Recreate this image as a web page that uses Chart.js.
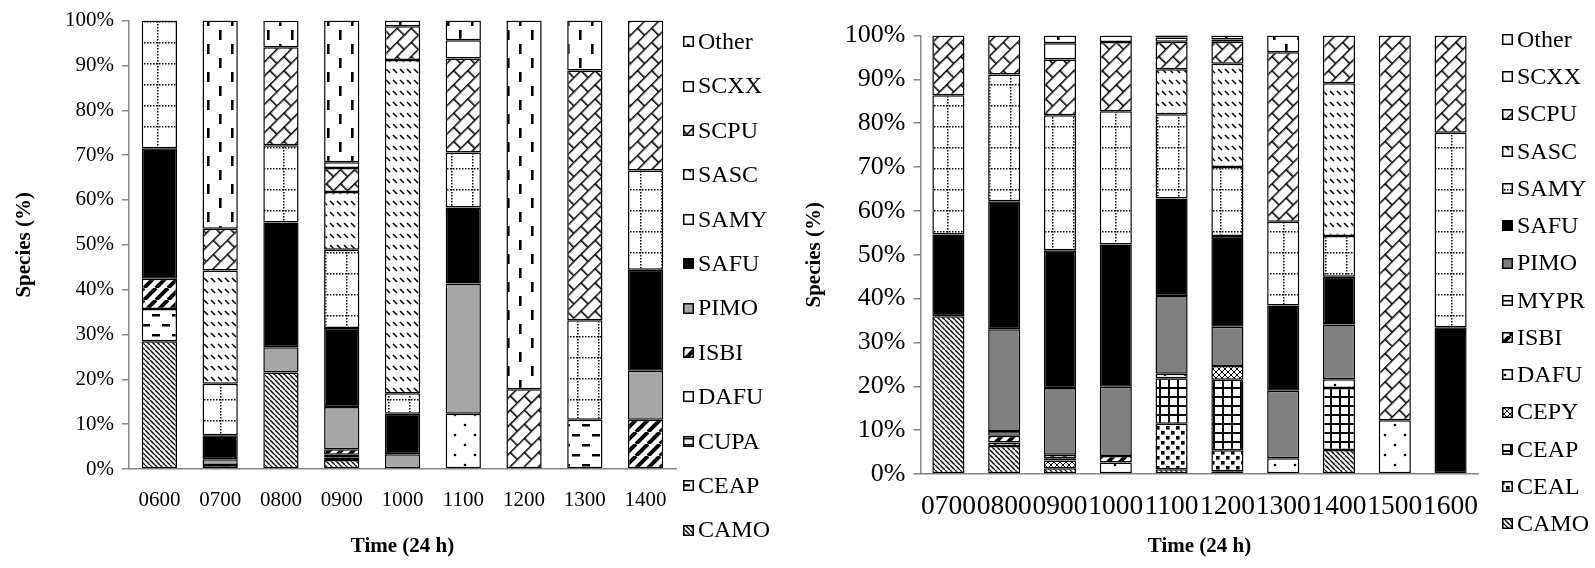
<!DOCTYPE html>
<html>
<head>
<meta charset="utf-8">
<script src="https://cdn.jsdelivr.net/npm/chart.js@4.4.0/dist/chart.umd.min.js"></script>
<style>
  html, body { margin: 0; padding: 0; background: #fff; }
  #wrap { position: relative; width: 1595px; height: 568px; }
  #leftChart { position: absolute; left: 0; top: 0; }
  #rightChart { position: absolute; left: 790px; top: 0; }
</style>
</head>
<body>
<div id="wrap">
  <canvas id="leftChart" width="790" height="568"></canvas>
  <canvas id="rightChart" width="805" height="568"></canvas>
</div>
<script>
// ---- left chart data (percent of species per hour) ----
const leftTimes = ['0600', '0700', '0800', '0900', '1000', '1100', '1200', '1300', '1400'];
const leftCAMO  = [28.5, 0,    21.5,  2.0,  0,    0,     0,    0,     0];
const leftCEAP  = [7.2,  0.9,  0,     0.6,  0,    0,     0,    11.0,  0];
const leftCUPA  = [0,    0,    0,     0.6,  0,    0,     0,    0,     0];
const leftDAFU  = [0,    0,    0,     0,    0,    12.3,  0,    0,     0];
const leftISBI  = [6.75, 0,    0,     1.2,  0,    0,     0,    0,     11.0];
const leftPIMO  = [0,    1.3,  5.65,  9.4,  3.3,  29.05, 0,    0,     10.9];
const leftSAFU  = [29.1, 5.3,  27.8,  17.65, 9.0, 16.95, 0,    0,     22.55];
const leftSAMY  = [28.5, 11.5, 17.25, 17.45, 4.6, 12.3,  0,    22.15, 22.1];
const leftSASC  = [0,    25.25, 0,    12.9, 74.3, 0,     0,    0,     0];
const leftSCPU  = [0,    9.35, 21.85, 5.35, 7.55, 20.95, 17.8, 55.7,  33.5];
const leftSCXX  = [0,    0,    0,     1.25, 0,    4.05,  0,    0,     0];
const leftOther = [0,    46.4, 5.9,   31.65, 1.25, 4.4,  82.2, 11.2,  0];

// ---- right chart data ----
const rightTimes = ['0700', '0800', '0900', '1000', '1100', '1200', '1300', '1400', '1500', '1600'];
const rightCAMO  = [36.0,  6.4,  1.3,   0,     1.1,   0.6,   0,     5.5,   0,     0];
const rightCEAL  = [0,     0,    0,     0,     10.35, 4.8,   0,     0,     0,     0];
const rightCEAP  = [0,     0,    0,     0,     10.4,  16.1,  0,     14.1,  0,     0];
const rightCEPY  = [0,     0,    1.8,   0,     0,     3.15,  0,     0,     0,     0];
const rightDAFU  = [0,     0.8,  0.5,   2.6,   1.0,   0,     3.6,   2.0,   12.25, 0];
const rightISBI  = [0,     1.5,  0.8,   1.5,   0,     0,     0,     0,     0,     0];
const rightMYPR  = [0,     1.1,  0,     0,     0,     0,     0,     0,     0,     0];
const rightPIMO  = [0,     23.2, 15.2,  15.8,  17.75, 8.95,  15.4,  12.5,  0,     0];
const rightSAFU  = [18.6,  29.2, 31.45, 32.45, 22.2,  20.65, 19.4,  10.9,  0,     33.45];
const rightSAMY  = [31.75, 28.9, 30.75, 30.4,  19.25, 15.75, 19.15, 9.25,  0,     44.4];
const rightSASC  = [0,     0,    0,     0,     10.25, 23.55, 0,     34.85, 0,     0];
const rightSCPU  = [13.65, 8.9,  12.75, 15.75, 6.25,  5.05,  38.65, 10.9,  87.75, 22.15];
const rightSCXX  = [0,     0,    3.7,   1.5,   1.0,   0.5,   0,     0,     0,     0];
const rightOther = [0,     0,    1.75,  0,     0.5,   0.9,   3.8,   0,     0,     0];

const yTicks = [0, 10, 20, 30, 40, 50, 60, 70, 80, 90, 100];

Chart.defaults.font.family = '"Liberation Serif", "Times New Roman", serif';
Chart.defaults.color = '#000';

// small tiles used as fill patterns
function tile(w, h, draw) {
    const c = document.createElement('canvas');
    c.width = w; c.height = h;
    const g = c.getContext('2d');
    g.fillStyle = '#fff';
    g.fillRect(0, 0, w, h);
    g.fillStyle = '#000';
    g.strokeStyle = '#000';
    draw(g);
    return c;
}
function pattern(c, angle) {
    const p = document.createElement('canvas').getContext('2d').createPattern(c, 'repeat');
    if (angle) p.setTransform(new DOMMatrix().rotate(angle));
    return p;
}

const pat = {
    camo: pattern(tile(5, 5, g => {
        g.lineWidth = 1.4;
        g.beginPath();
        [-5, 0, 5].forEach(o => { g.moveTo(o, 0); g.lineTo(o + 5, 5); });
        g.stroke();
    })),
    hdash: pattern(tile(20, 20, g => {
        g.fillRect(2, 4, 8, 2.5);
        g.fillRect(12, 14, 8, 2.5);
    })),
    white: '#fff',
    dots: pattern(tile(20, 20, g => {
        g.beginPath(); g.arc(5, 5, 1.3, 0, Math.PI * 2); g.fill();
        g.beginPath(); g.arc(15, 15, 1.3, 0, Math.PI * 2); g.fill();
    })),
    stripes: pattern(tile(12, 12, g => {
        g.lineWidth = 4;
        g.beginPath();
        [-12, 0, 12].forEach(o => { g.moveTo(o, 12); g.lineTo(o + 12, 0); });
        g.stroke();
    })),
    dotgrid: pattern(tile(21, 21, g => {
        for (let x = 0; x < 21; x += 3) g.fillRect(x, 0, 1.5, 1.5);
        for (let y = 0; y < 21; y += 3) g.fillRect(10, y, 1.5, 1.5);
    })),
    shortdiag: pattern(tile(7, 11, g => {
        g.lineWidth = 1.6;
        g.beginPath(); g.moveTo(1, 3); g.lineTo(5, 7); g.stroke();
    })),
    brick: pattern(tile(20, 20, g => {
        g.lineWidth = 1.6;
        g.beginPath();
        g.moveTo(0, 0.8); g.lineTo(20, 0.8);
        g.moveTo(0, 10.8); g.lineTo(20, 10.8);
        g.moveTo(0.8, 0); g.lineTo(0.8, 10.8);
        g.moveTo(10.8, 10.8); g.lineTo(10.8, 20);
        g.stroke();
    }), -45),
    vdash: pattern(tile(24, 28, g => {
        g.fillRect(3, 2, 2.6, 10);
        g.fillRect(15, 16, 2.6, 10);
    })),
    blots: pattern(tile(10, 10, g => {
        g.fillRect(1, 1, 3.6, 3.6);
        g.fillRect(6, 6, 3.6, 3.6);
    })),
    grid: pattern(tile(9, 9, g => {
        g.fillRect(0, 0, 9, 2);
        g.fillRect(0, 0, 2, 9);
    })),
    cross: pattern(tile(6, 6, g => {
        g.lineWidth = 1;
        g.beginPath();
        g.moveTo(0, 0); g.lineTo(6, 6);
        g.moveTo(6, 0); g.lineTo(0, 6);
        g.stroke();
    })),
    hline: pattern(tile(8, 6, g => { g.fillRect(0, 0, 8, 1.5); }))
};

// legend drawn at the right like the original figure
const sideLegend = {
    id: 'sideLegend',
    afterDraw(chart, args, opts) {
        const ctx = chart.ctx;
        const sets = chart.data.datasets;
        ctx.save();
        ctx.font = opts.font;
        ctx.textBaseline = 'middle';
        for (let i = 0; i < sets.length; i++) {
            const ds = sets[sets.length - 1 - i];
            const y = opts.top + i * opts.step;
            const bx = opts.x, by = Math.round(y - opts.box / 2);
            ctx.fillStyle = ds.backgroundColor;
            ctx.fillRect(bx, by, opts.box, opts.box);
            ctx.lineWidth = 1.5;
            ctx.strokeStyle = '#000';
            ctx.strokeRect(bx + 0.75, by + 0.75, opts.box - 1.5, opts.box - 1.5);
            ctx.fillStyle = '#000';
            ctx.fillText(ds.label, bx + opts.box + opts.gap, y + 1);
        }
        ctx.restore();
    }
};

function makeChart(id, labels, series, o) {
    const datasets = series.map(s => ({
        label: s[0],
        data: s[1],
        backgroundColor: s[2],
        borderColor: '#000',
        borderWidth: 1.5,
        borderSkipped: false,
        barPercentage: o.barPct,
        categoryPercentage: 1
    }));
    return new Chart(document.getElementById(id), {
        type: 'bar',
        data: { labels: labels, datasets: datasets },
        plugins: [sideLegend],
        options: {
            responsive: false,
            animation: false,
            layout: { padding: { left: 0, right: o.padRight, top: o.padTop, bottom: 0 } },
            plugins: {
                legend: { display: false },
                tooltip: { enabled: false },
                sideLegend: o.legend
            },
            scales: {
                x: {
                    stacked: true,
                    afterFit: s => { s.height = o.xHeight; },
                    grid: { display: false, drawTicks: false },
                    border: { display: true, color: '#868686', width: 1.5 },
                    ticks: {
                        autoSkip: false, maxRotation: 0, minRotation: 0,
                        padding: o.xTickPad,
                        font: { size: o.xTickSize }
                    },
                    title: {
                        display: true, text: 'Time (24 h)',
                        font: { size: o.titleSize, weight: 'bold' },
                        padding: { top: 0, bottom: o.xTitlePad }
                    }
                },
                y: {
                    stacked: true,
                    min: 0, max: 100,
                    afterFit: s => { s.width = o.yWidth; },
                    afterBuildTicks: s => { s.ticks = yTicks.map(v => ({ value: v })); },
                    grid: { drawOnChartArea: false, tickLength: 7, color: '#868686', lineWidth: 1.5 },
                    border: { display: true, color: '#868686', width: 1.5 },
                    ticks: {
                        padding: 8,
                        font: { size: o.yTickSize },
                        callback: v => v + '%'
                    },
                    title: {
                        display: true, text: 'Species (%)',
                        font: { size: o.titleSize, weight: 'bold' },
                        padding: { top: o.yTitlePad, bottom: 0 }
                    }
                }
            }
        }
    });
}

makeChart('leftChart', leftTimes, [
    ['CAMO', leftCAMO, pat.camo],
    ['CEAP', leftCEAP, pat.hdash],
    ['CUPA', leftCUPA, pat.hline],
    ['DAFU', leftDAFU, pat.dots],
    ['ISBI', leftISBI, pat.stripes],
    ['PIMO', leftPIMO, '#a6a6a6'],
    ['SAFU', leftSAFU, '#000'],
    ['SAMY', leftSAMY, pat.dotgrid],
    ['SASC', leftSASC, pat.shortdiag],
    ['SCPU', leftSCPU, pat.brick],
    ['SCXX', leftSCXX, pat.white],
    ['Other', leftOther, pat.vdash]
], {
    barPct: 0.58, padRight: 114, padTop: 16, xHeight: 99, yWidth: 129,
    xTickPad: 19, xTickSize: 21, yTickSize: 21, titleSize: 21,
    xTitlePad: 9, yTitlePad: 12,
    legend: { x: 683, top: 41.7, step: 44.4, box: 11, gap: 4, font: '24px "Liberation Serif"' }
});

makeChart('rightChart', rightTimes, [
    ['CAMO', rightCAMO, pat.camo],
    ['CEAL', rightCEAL, pat.blots],
    ['CEAP', rightCEAP, pat.grid],
    ['CEPY', rightCEPY, pat.cross],
    ['DAFU', rightDAFU, pat.dots],
    ['ISBI', rightISBI, pat.stripes],
    ['MYPR', rightMYPR, pat.hline],
    ['PIMO', rightPIMO, '#808080'],
    ['SAFU', rightSAFU, '#000'],
    ['SAMY', rightSAMY, pat.dotgrid],
    ['SASC', rightSASC, pat.shortdiag],
    ['SCPU', rightSCPU, pat.brick],
    ['SCXX', rightSCXX, pat.white],
    ['Other', rightOther, pat.vdash]
], {
    barPct: 0.575, padRight: 116.5, padTop: 35.5, xHeight: 94, yWidth: 130.5,
    xTickPad: 16, xTickSize: 27.5, yTickSize: 26, titleSize: 21,
    xTitlePad: 9, yTitlePad: 12,
    legend: { x: 712, top: 39.7, step: 37.25, box: 11, gap: 4, font: '24px "Liberation Serif"' }
});
</script>
</body>
</html>
